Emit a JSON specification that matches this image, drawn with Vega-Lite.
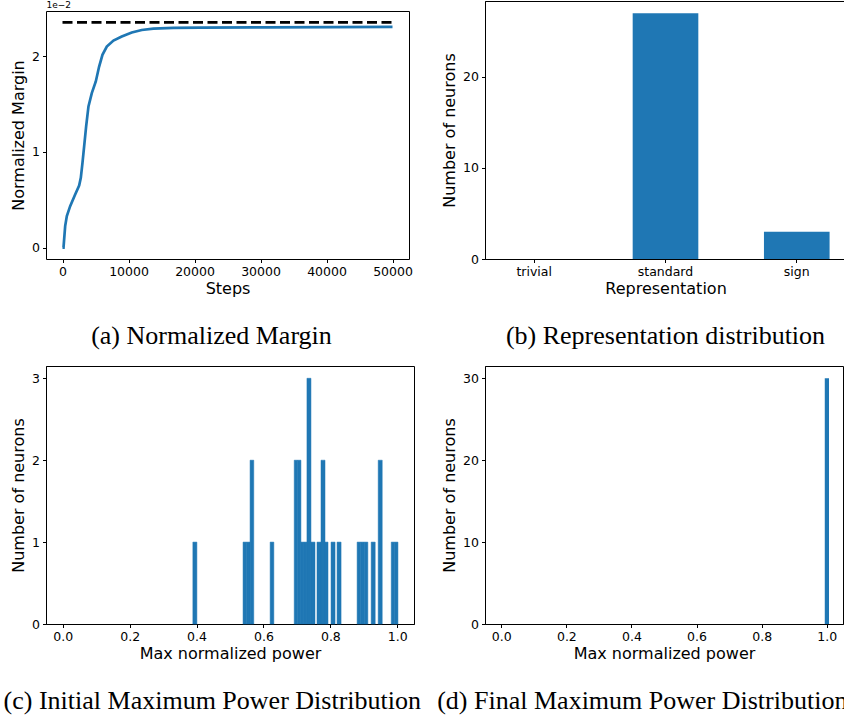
{
  "$schema": "https://vega.github.io/schema/vega-lite/v6.json",
  "autosize": {"type": "none"},
  "padding": {"left": 46, "top": 1, "right": 798, "bottom": 718},
  "background": "white",
  "bounds": "flush",
  "align": "each",
  "columns": 2,
  "spacing": {"row": 107, "column": 71},
  "config": {
    "font": "DejaVu Sans",
    "view": {"stroke": "#000", "strokeWidth": 1},
    "axis": {
      "grid": false, "domainColor": "#000", "domainWidth": 1,
      "tickColor": "#000", "tickWidth": 1, "tickSize": 3.5,
      "labelFont": "DejaVu Sans", "labelFontSize": 12.5, "labelColor": "#000", "labelPadding": 3,
      "labelFlush": false, "labelOverlap": false,
      "titleFont": "DejaVu Sans", "titleFontSize": 16, "titleFontWeight": "normal", "titleColor": "#000"
    },
    "axisX": {"titlePadding": 2},
    "axisY": {"titlePadding": 5},
    "title": {"font": "Liberation Serif", "fontSize": 26, "fontWeight": "normal", "color": "#000", "orient": "bottom", "offset": 27}
  },
  "datasets": {
    "margin": [
      {"step": 0, "margin": 0},
      {"step": 151, "margin": 0.0},
      {"step": 404, "margin": 0.226},
      {"step": 656, "margin": 0.33},
      {"step": 1160, "margin": 0.434},
      {"step": 1917, "margin": 0.556},
      {"step": 2522, "margin": 0.649},
      {"step": 2775, "margin": 0.729},
      {"step": 3027, "margin": 0.885},
      {"step": 3279, "margin": 1.059},
      {"step": 3582, "margin": 1.267},
      {"step": 3935, "margin": 1.476},
      {"step": 4440, "margin": 1.615},
      {"step": 5045, "margin": 1.736},
      {"step": 5550, "margin": 1.892},
      {"step": 6054, "margin": 2.014},
      {"step": 6710, "margin": 2.1},
      {"step": 7719, "margin": 2.163},
      {"step": 8980, "margin": 2.205},
      {"step": 10494, "margin": 2.247},
      {"step": 12007, "margin": 2.274},
      {"step": 13773, "margin": 2.288},
      {"step": 16800, "margin": 2.295},
      {"step": 20835, "margin": 2.299},
      {"step": 30925, "margin": 2.302},
      {"step": 41015, "margin": 2.304},
      {"step": 50000, "margin": 2.306}
    ],
    "bound": [{"start": 0, "end": 50000, "bound": 2.354}],
    "reps": [
      {"representation": "trivial", "neurons": 0},
      {"representation": "standard", "neurons": 27},
      {"representation": "sign", "neurons": 3}
    ],
    "initial": [
      {"bin_start": 0.389, "bin_end": 0.401, "count": 1},
      {"bin_start": 0.539, "bin_end": 0.5495, "count": 1},
      {"bin_start": 0.5495, "bin_end": 0.560, "count": 1},
      {"bin_start": 0.560, "bin_end": 0.571, "count": 2},
      {"bin_start": 0.620, "bin_end": 0.631, "count": 1},
      {"bin_start": 0.692, "bin_end": 0.702, "count": 2},
      {"bin_start": 0.702, "bin_end": 0.712, "count": 2},
      {"bin_start": 0.712, "bin_end": 0.721, "count": 1},
      {"bin_start": 0.721, "bin_end": 0.730, "count": 1},
      {"bin_start": 0.730, "bin_end": 0.742, "count": 3},
      {"bin_start": 0.742, "bin_end": 0.754, "count": 1},
      {"bin_start": 0.760, "bin_end": 0.772, "count": 1},
      {"bin_start": 0.772, "bin_end": 0.784, "count": 2},
      {"bin_start": 0.784, "bin_end": 0.793, "count": 1},
      {"bin_start": 0.802, "bin_end": 0.814, "count": 1},
      {"bin_start": 0.820, "bin_end": 0.832, "count": 1},
      {"bin_start": 0.880, "bin_end": 0.891, "count": 1},
      {"bin_start": 0.891, "bin_end": 0.901, "count": 1},
      {"bin_start": 0.901, "bin_end": 0.912, "count": 1},
      {"bin_start": 0.922, "bin_end": 0.934, "count": 1},
      {"bin_start": 0.943, "bin_end": 0.955, "count": 2},
      {"bin_start": 0.982, "bin_end": 0.992, "count": 1},
      {"bin_start": 0.992, "bin_end": 1.002, "count": 1}
    ],
    "final": [
      {"bin_start": 0.994, "bin_end": 1.007, "count": 30}
    ]
  },
  "concat": [
    {
      "width": 363,
      "height": 258,
      "view": {"stroke": null},
      "title": {"text": "(a) Normalized Margin", "frame": "bounds", "anchor": "middle"},
      "layer": [
        {
          "data": {"name": "margin"},
          "mark": {"type": "line", "color": "#1f77b4", "strokeWidth": 2.7},
          "encoding": {
            "x": {"field": "step", "type": "quantitative",
                  "scale": {"domain": [-2500, 52500], "nice": false, "zero": false},
                  "axis": {"values": [0, 10000, 20000, 30000, 40000, 50000], "format": "d", "title": "Steps"}},
            "y": {"field": "margin", "type": "quantitative",
                  "scale": {"domain": [-0.118, 2.472], "range": [258, 10], "nice": false, "zero": false},
                  "axis": {"values": [0, 1, 2], "format": "d", "title": "Normalized Margin"}}
          }
        },
        {
          "data": {"name": "bound"},
          "mark": {"type": "rule", "color": "#000", "strokeWidth": 2.7, "strokeDash": [10, 4.5]},
          "encoding": {
            "x": {"field": "start", "type": "quantitative",
                  "scale": {"domain": [-2500, 52500], "nice": false, "zero": false},
                  "axis": {"orient": "top", "offset": -10, "labels": false, "ticks": false, "title": "1e−2",
                           "titleAnchor": "start", "titleFontSize": 9, "titlePadding": 2, "titleBaseline": "bottom"}},
            "x2": {"field": "end"},
            "y": {"field": "bound", "type": "quantitative",
                  "scale": {"domain": [-0.118, 2.472], "range": [258, 10], "nice": false, "zero": false},
                  "axis": {"orient": "right", "labels": false, "ticks": false, "title": null}}
          }
        }
      ],
      "resolve": {"axis": {"x": "independent", "y": "independent"}}
    },
    {
      "width": 361,
      "height": 258,
      "title": {"text": "(b) Representation distribution", "frame": "group", "anchor": "middle"},
      "data": {"name": "reps"},
      "mark": {"type": "bar", "color": "#1f77b4"},
      "encoding": {
        "x": {"field": "representation", "type": "nominal", "sort": null,
              "scale": {"paddingInner": 0.5, "paddingOuter": 0.125},
              "axis": {"labelAngle": 0, "title": "Representation"}},
        "y": {"field": "neurons", "type": "quantitative",
              "scale": {"domain": [0, 28.35], "nice": false},
              "axis": {"values": [0, 10, 20], "title": "Number of neurons"}}
      }
    },
    {
      "width": 368,
      "height": 258,
      "title": {"text": "(c) Initial Maximum Power Distribution", "frame": "bounds", "anchor": "middle"},
      "data": {"name": "initial"},
      "mark": {"type": "bar", "color": "#1f77b4", "stroke": "#1f77b4", "strokeWidth": 0.5},
      "encoding": {
        "x": {"field": "bin_start", "type": "quantitative",
              "scale": {"domain": [-0.05, 1.05], "nice": false, "zero": false},
              "axis": {"values": [0, 0.2, 0.4, 0.6, 0.8, 1.0], "format": ".1f", "title": "Max normalized power"}},
        "x2": {"field": "bin_end"},
        "y": {"field": "count", "type": "quantitative",
              "scale": {"domain": [0, 3.15], "nice": false},
              "axis": {"values": [0, 1, 2, 3], "title": "Number of neurons"}},
        "y2": {"datum": 0}
      }
    },
    {
      "width": 358,
      "height": 258,
      "title": {"text": "(d) Final Maximum Power Distribution", "frame": "bounds", "anchor": "middle"},
      "data": {"name": "final"},
      "mark": {"type": "bar", "color": "#1f77b4"},
      "encoding": {
        "x": {"field": "bin_start", "type": "quantitative",
              "scale": {"domain": [-0.05, 1.05], "nice": false, "zero": false},
              "axis": {"values": [0, 0.2, 0.4, 0.6, 0.8, 1.0], "format": ".1f", "title": "Max normalized power"}},
        "x2": {"field": "bin_end"},
        "y": {"field": "count", "type": "quantitative",
              "scale": {"domain": [0, 31.5], "nice": false},
              "axis": {"values": [0, 10, 20, 30], "title": "Number of neurons"}},
        "y2": {"datum": 0}
      }
    }
  ]
}
